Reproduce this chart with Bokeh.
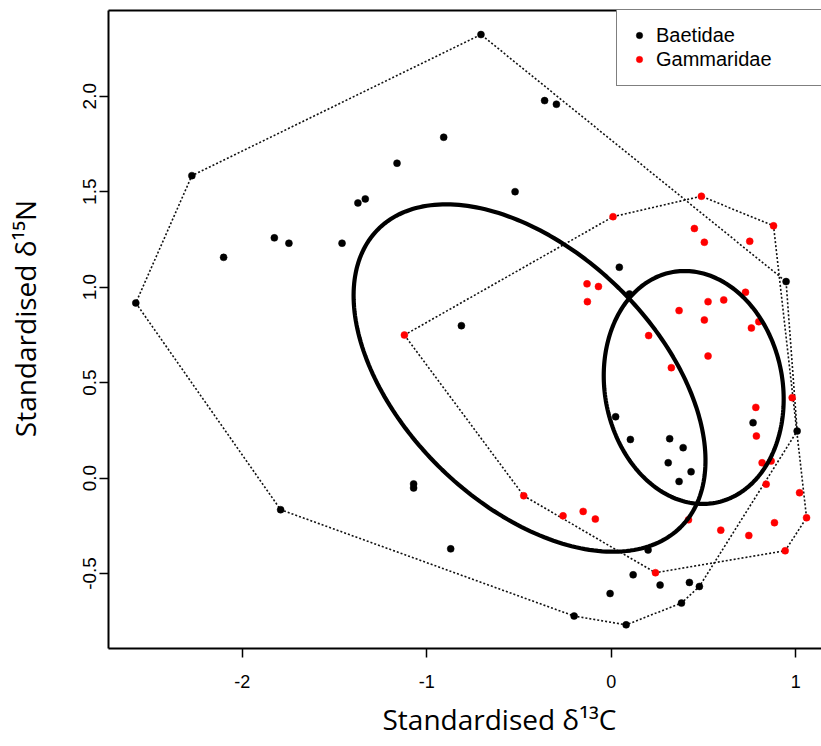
import numpy as np
from bokeh.plotting import figure
from bokeh.models import (Legend, LegendItem, LinearAxis, FixedTicker,
                          NumeralTickFormatter, Title)
from bokeh.embed import file_html
from bokeh.resources import INLINE

# ---------------- data ----------------
baetidae_x = [-2.577, -2.273, -2.101, -1.826, -1.747, -1.459, -1.373, -1.333,
              -1.161, -0.908, -0.812, -0.706, -0.361, -0.297, -0.521, 0.044,
              0.948, 0.099, 0.769, 1.008, 0.024, 0.104, 0.317, 0.390,
              0.309, 0.433, 0.368, 0.200, -0.870, 0.119, 0.265, 0.424,
              0.478, -0.006, 0.381, 0.081, -0.201, -1.071, -1.071, -1.792]
baetidae_y = [0.917, 1.584, 1.156, 1.258, 1.230, 1.230, 1.441, 1.462,
              1.649, 1.785, 0.798, 2.323, 1.977, 1.958, 1.500, 1.104,
              1.029, 0.964, 0.290, 0.246, 0.321, 0.202, 0.206, 0.159,
              0.080, 0.033, -0.018, -0.377, -0.371, -0.507, -0.561, -0.547,
              -0.568, -0.605, -0.655, -0.769, -0.723, -0.031, -0.052, -0.166]

gammaridae_x = [0.010, 0.489, 0.880, 0.451, 0.505, 0.751, -0.131, -0.069,
                -0.129, 0.368, 0.525, 0.610, 0.728, 0.505, 0.760, 0.800,
                0.203, 0.525, 0.326, 0.981, 0.784, 0.787, 0.818, 0.867,
                0.840, 1.021, 1.059, 0.885, 0.943, 0.594, 0.746, 0.419,
                -0.474, -0.261, -0.152, -0.086, 0.240, -1.121]
gammaridae_y = [1.369, 1.476, 1.321, 1.307, 1.235, 1.240, 1.017, 1.003,
                0.924, 0.877, 0.924, 0.933, 0.973, 0.828, 0.786, 0.819,
                0.746, 0.639, 0.578, 0.421, 0.370, 0.220, 0.080, 0.089,
                -0.032, -0.077, -0.208, -0.234, -0.381, -0.273, -0.301, -0.219,
                -0.093, -0.198, -0.175, -0.215, -0.496, 0.749]

group_names = ["Baetidae", "Gammaridae"]
group_colors = ["black", "red"]
x_ticks = [-2, -1, 0, 1]
y_ticks = [-0.5, 0.0, 0.5, 1.0, 1.5, 2.0]
x_title = "Standardised δ¹³C"
y_title = "Standardised δ¹⁵N"


def convex_hull(xs, ys):
    pts = sorted(set(zip(xs, ys)))
    def cross(o, a, b):
        return (a[0]-o[0])*(b[1]-o[1]) - (a[1]-o[1])*(b[0]-o[0])
    lower, upper = [], []
    for pt in pts:
        while len(lower) >= 2 and cross(lower[-2], lower[-1], pt) <= 0:
            lower.pop()
        lower.append(pt)
    for pt in reversed(pts):
        while len(upper) >= 2 and cross(upper[-2], upper[-1], pt) <= 0:
            upper.pop()
        upper.append(pt)
    hull = lower[:-1] + upper[:-1]
    hull.append(hull[0])
    return [h[0] for h in hull], [h[1] for h in hull]


def standard_ellipse(xs, ys, n=240):
    X = np.array([xs, ys], dtype=float)
    mu = X.mean(axis=1)
    S = np.cov(X)
    m = X.shape[1]
    S = S * (m - 1) / (m - 2)  # small sample correction (SEAc)
    vals, vecs = np.linalg.eigh(S)
    t = np.linspace(0, 2 * np.pi, n)
    circ = np.vstack([np.cos(t), np.sin(t)])
    pts = mu[:, None] + vecs @ (np.sqrt(vals)[:, None] * circ)
    return pts[0], pts[1]


# ---------------- figure ----------------
W, H = 821, 746
FL, FT, FB = 108, 10, 648          # frame left / top / bottom in px
x0, x1 = -2.725, 1.14
y0, y1 = -0.893, 2.449

p = figure(width=W, height=H, x_range=(x0, x1), y_range=(y0, y1),
           output_backend="svg", toolbar_location=None,
           min_border_left=FL, min_border_right=0,
           min_border_top=FT, min_border_bottom=H - FB)
p.grid.visible = False
p.outline_line_color = None
p.background_fill_color = "white"
p.border_fill_color = "white"

for ax in (p.xaxis[0], p.yaxis[0]):
    ax.axis_line_width = 2
    ax.axis_line_color = "black"
    ax.major_tick_out = 9
    ax.major_tick_in = 0
    ax.major_tick_line_width = 1.5
    ax.minor_tick_out = 0
    ax.minor_tick_in = 0
    ax.major_label_text_font = "Liberation Sans"
    ax.major_label_text_color = "black"

p.xaxis[0].ticker = FixedTicker(ticks=x_ticks)
p.xaxis[0].formatter = NumeralTickFormatter(format="0")
p.xaxis[0].major_label_text_font_size = "18px"
p.xaxis[0].major_label_standoff = 17

p.yaxis[0].ticker = FixedTicker(ticks=y_ticks)
p.yaxis[0].formatter = NumeralTickFormatter(format="0.0")
p.yaxis[0].major_label_text_font_size = "19px"
p.yaxis[0].major_label_orientation = "vertical"
p.yaxis[0].major_label_standoff = 3
# y title as the axis label (leading no-break spaces nudge it slightly upward)
p.yaxis[0].axis_label = "\u00a0\u00a0\u00a0" + y_title
p.yaxis[0].axis_label_text_font = "Open Sans"
p.yaxis[0].axis_label_text_font_size = "28px"
p.yaxis[0].axis_label_text_font_style = "normal"
p.yaxis[0].axis_label_text_color = "black"
p.yaxis[0].axis_label_standoff = 37

top = LinearAxis(ticker=FixedTicker(ticks=[]), major_label_text_font_size="0px",
                 major_tick_out=0, major_tick_in=0, minor_tick_out=0,
                 minor_tick_in=0, axis_line_width=2, major_label_standoff=0)
p.add_layout(top, "above")

groups = [(baetidae_x, baetidae_y), (gammaridae_x, gammaridae_y)]

# hulls
for gx, gy in groups:
    hx, hy = convex_hull(gx, gy)
    p.line(hx, hy, line_color="#111111", line_width=1.6, line_dash="2 2")

# points
renderers = []
for (gx, gy), col in zip(groups, group_colors):
    r = p.scatter(gx, gy, size=7, marker="circle", fill_color=col,
                  line_color=col, line_width=0.5)
    renderers.append(r)

# standard ellipses
for gx, gy in groups:
    ex, ey = standard_ellipse(gx, gy)
    p.line(ex, ey, line_color="black", line_width=4.2)

# legend
legend = Legend(items=[LegendItem(label=n, renderers=[r])
                       for n, r in zip(group_names, renderers)],
                location=(616 - FL, FB - FT - 76),
                label_text_font="Liberation Sans", label_text_font_size="20px",
                label_text_color="black",
                label_height=24, glyph_height=24, glyph_width=16,
                label_standoff=9, spacing=0, padding=14, margin=0,
                label_width=200,
                border_line_color="black", border_line_width=1.5,
                background_fill_color="white", background_fill_alpha=1.0)
p.add_layout(legend, "center")

# x axis title
p.add_layout(Title(text=x_title, align="left", offset=382 - FL, standoff=15,
                   text_font="Open Sans", text_font_size="28px",
                   text_font_style="normal", text_color="black"), "below")

open("out.html", "w").write(file_html(p, INLINE))
